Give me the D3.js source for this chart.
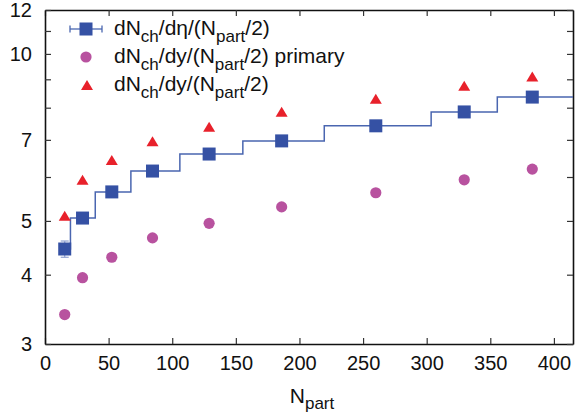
<!DOCTYPE html>
<html>
<head>
<meta charset="utf-8">
<script src="https://cdn.jsdelivr.net/npm/d3@7"></script>
<style>
  html, body { margin: 0; padding: 0; background: #fff; }
  svg { display: block; font-family: "Liberation Sans", Arial, Helvetica, sans-serif; }
</style>
</head>
<body>
<svg id="chart" width="578" height="417"></svg>
<script>
// ---- data ----
const npart        = [15.5, 29.5, 52.5, 84.5, 129, 186, 260, 329.5, 383];
const dNdeta       = [4.45, 5.06, 5.64, 6.15, 6.60, 6.97, 7.42, 7.86, 8.36];
const dNdetaErr    = [0.15, 0.10, 0.10, 0.10, 0.10, 0.10, 0.10, 0.10, 0.10];
const dNdyPrimary  = [3.39, 3.95, 4.30, 4.66, 4.95, 5.30, 5.62, 5.93, 6.20];
const dNdy         = [5.11, 5.93, 6.44, 6.96, 7.39, 7.87, 8.30, 8.76, 9.11];
const binEdges     = [11, 20, 39.5, 67.5, 106, 155.5, 219.5, 303.5, 355.5, 415];
const xTicks       = [0, 50, 100, 150, 200, 250, 300, 350, 400];
const yTicks       = [3, 4, 5, 6, 7, 8, 9, 10, 11, 12];
const yTickLabels  = [3, 4, 5, 7, 10, 12];

const W = 578, H = 417;
const m = {left: 45, top: 10, right: 5, bottom: 73};
const pw = W - m.left - m.right, ph = H - m.top - m.bottom;

const blue = "#3551a4", lineBlue = "#4a66b0", magenta = "#b8529f", red = "#e8212b";

const svg = d3.select("#chart");
const g = svg.append("g").attr("transform", `translate(${m.left},${m.top})`);

const x = d3.scaleLinear().domain([0, 415]).range([0, pw]);
const y = d3.scaleLog().domain([3, 12]).range([ph, 0]);

const fs = 20;

// axes (ticks inward, mirrored)
const tickLen = 6;
const axB = d3.axisBottom(x).tickValues(xTicks).tickSizeInner(-tickLen).tickSizeOuter(0).tickPadding(12).tickFormat(d3.format("d"));
const axT = d3.axisTop(x).tickValues(xTicks).tickSizeInner(-tickLen).tickSizeOuter(0).tickFormat("");
const axL = d3.axisLeft(y).tickValues(yTicks).tickSizeInner(-tickLen).tickSizeOuter(0).tickPadding(13)
  .tickFormat(d => yTickLabels.includes(d) ? d : "");
const axR = d3.axisRight(y).tickValues(yTicks).tickSizeInner(-tickLen).tickSizeOuter(0).tickFormat("");

function style(sel) {
  sel.select(".domain").attr("stroke", "#111").attr("stroke-width", 1.6);
  sel.selectAll(".tick line").attr("stroke", "#333").attr("stroke-width", 1.2);
  sel.selectAll(".tick text").attr("fill", "#111").style("font-size", fs + "px");
}
g.append("g").attr("transform", `translate(0,${ph})`).call(axB).call(style);
g.append("g").call(axT).call(style);
g.append("g").call(axL).call(style);
g.append("g").attr("transform", `translate(${pw},0)`).call(axR).call(style);

// step line
const stepPts = npart.map((d, i) => [binEdges[i], dNdeta[i]]);
stepPts.push([binEdges[binEdges.length - 1], dNdeta[dNdeta.length - 1]]);
g.append("path")
  .attr("d", d3.line().x(d => x(d[0])).y(d => y(d[1])).curve(d3.curveStepAfter)(stepPts))
  .attr("fill", "none").attr("stroke", lineBlue).attr("stroke-width", 1.5);

// error bars
const cap = 4;
npart.forEach((n, i) => {
  const cx = x(n), y0 = y(dNdeta[i] - dNdetaErr[i]), y1 = y(dNdeta[i] + dNdetaErr[i]);
  g.append("line").attr("x1", cx).attr("x2", cx).attr("y1", y0).attr("y2", y1).attr("stroke", "#8fa0d0").attr("stroke-width", 1.2);
  g.append("line").attr("x1", cx - cap).attr("x2", cx + cap).attr("y1", y0).attr("y2", y0).attr("stroke", "#8fa0d0").attr("stroke-width", 1.2);
  g.append("line").attr("x1", cx - cap).attr("x2", cx + cap).attr("y1", y1).attr("y2", y1).attr("stroke", "#8fa0d0").attr("stroke-width", 1.2);
});

// markers
const sq = 13;
const cr = 5.6;
const triW = 12, triH = 10;
const triPath = (cx, cy) => `M${cx},${cy - triH/2}L${cx + triW/2},${cy + triH/2}L${cx - triW/2},${cy + triH/2}Z`;

g.selectAll(".circ").data(npart).enter().append("circle")
  .attr("cx", d => x(d)).attr("cy", (d, i) => y(dNdyPrimary[i])).attr("r", cr).attr("fill", magenta);
g.selectAll(".tri").data(npart).enter().append("path")
  .attr("d", (d, i) => triPath(x(d), y(dNdy[i]))).attr("fill", red);
g.selectAll(".sq").data(npart).enter().append("rect")
  .attr("x", d => x(d) - sq/2).attr("y", (d, i) => y(dNdeta[i]) - sq/2)
  .attr("width", sq).attr("height", sq).attr("fill", blue);

// legend
const lg = svg.append("g");
const lx = 86, rows = [29, 57, 85], tx = 114;
// row 1: square with horizontal error bar
lg.append("line").attr("x1", 70).attr("x2", 102).attr("y1", rows[0]).attr("y2", rows[0]).attr("stroke", lineBlue).attr("stroke-width", 1.3);
lg.append("line").attr("x1", 70).attr("x2", 70).attr("y1", rows[0] - 3.5).attr("y2", rows[0] + 3.5).attr("stroke", lineBlue).attr("stroke-width", 1.3);
lg.append("line").attr("x1", 102).attr("x2", 102).attr("y1", rows[0] - 3.5).attr("y2", rows[0] + 3.5).attr("stroke", lineBlue).attr("stroke-width", 1.3);
lg.append("rect").attr("x", lx - sq/2).attr("y", rows[0] - sq/2).attr("width", sq).attr("height", sq).attr("fill", blue);
lg.append("circle").attr("cx", lx).attr("cy", rows[1]).attr("r", cr).attr("fill", magenta);
lg.append("path").attr("d", triPath(lx + 1, rows[2])).attr("fill", red);

function richLabel(sel, parts, subSize, shift) {
  parts.forEach(p => {
    const t = sel.append("tspan").text(p.t);
    if (p.sub) t.attr("dy", shift).style("font-size", subSize + "px");
    else if (p.after) t.attr("dy", -shift);
  });
}
const labels = [
  [{t: "dN"}, {t: "ch", sub: true}, {t: "/dη/(N", after: true}, {t: "part", sub: true}, {t: "/2)", after: true}],
  [{t: "dN"}, {t: "ch", sub: true}, {t: "/dy/(N", after: true}, {t: "part", sub: true}, {t: "/2) primary", after: true}],
  [{t: "dN"}, {t: "ch", sub: true}, {t: "/dy/(N", after: true}, {t: "part", sub: true}, {t: "/2)", after: true}]
];
labels.forEach((parts, i) => {
  const t = lg.append("text").attr("x", tx).attr("y", rows[i] + 6).attr("fill", "#111").style("font-size", "21px");
  richLabel(t, parts, 17, 6.5);
});

// x-axis title
const xt = svg.append("text").attr("x", 312).attr("y", 403).attr("text-anchor", "middle")
  .attr("fill", "#111").style("font-size", "21px");
richLabel(xt, [{t: "N"}, {t: "part", sub: true}], 17, 6);
</script>
</body>
</html>
